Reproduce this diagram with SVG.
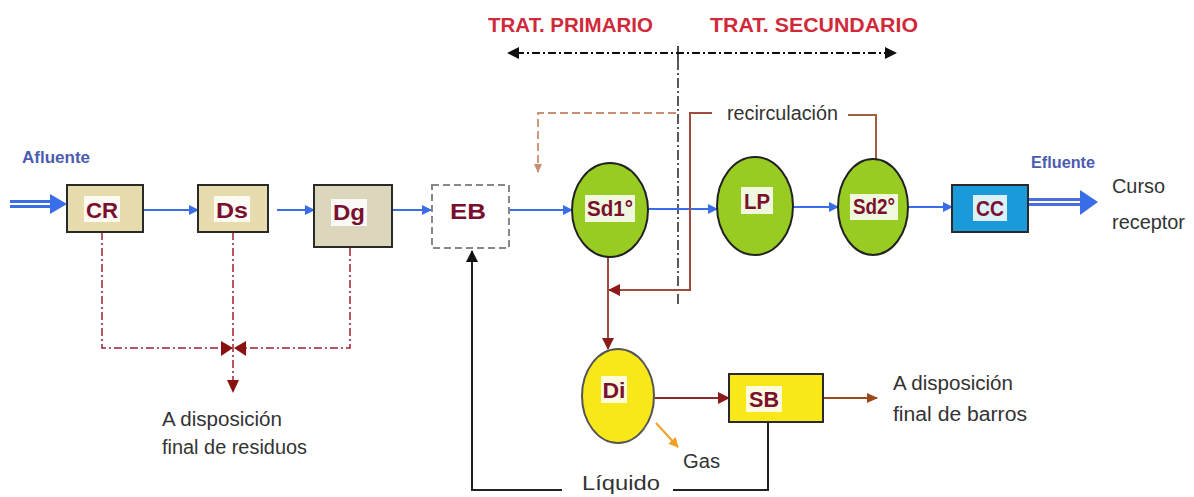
<svg xmlns="http://www.w3.org/2000/svg" width="1194" height="497" viewBox="0 0 1194 497">
<style>
.box{stroke:#2a2a2a;stroke-width:2}
.lbl{font-family:"Liberation Sans",Arial,sans-serif;font-weight:bold;font-size:22px;fill:#7a1030;text-anchor:middle}
.lblbg{fill:#ffffff;opacity:0.85}
.txt{font-family:"Liberation Sans",Arial,sans-serif;font-size:20px;fill:#333}
.red{font-family:"Liberation Sans",Arial,sans-serif;font-weight:bold;font-size:21px;fill:#d02a3a}
.blue{font-family:"Liberation Sans",Arial,sans-serif;font-weight:bold;font-size:16px;fill:#4a5cb0}
.flow{stroke:#3a6ee8;stroke-width:2;fill:none}
.dd{stroke-dasharray:8 3 2 3}
</style>
<defs>
<marker id="aBlue" markerWidth="10" markerHeight="10" refX="9" refY="5" orient="auto" markerUnits="userSpaceOnUse"><path d="M0,0 L10,5 L0,10 z" fill="#3a6ee8"/></marker>
<marker id="aMaroon" markerWidth="12" markerHeight="12" refX="11" refY="6" orient="auto" markerUnits="userSpaceOnUse"><path d="M0,0 L12,6 L0,12 z" fill="#8b1a1a"/></marker>
<marker id="aBrown" markerWidth="11" markerHeight="10" refX="10" refY="5" orient="auto" markerUnits="userSpaceOnUse"><path d="M0,0 L11,5 L0,10 z" fill="#9a4a1a"/></marker>
<marker id="aBlack" markerWidth="12" markerHeight="12" refX="11" refY="6" orient="auto" markerUnits="userSpaceOnUse"><path d="M0,0 L12,6 L0,12 z" fill="#111"/></marker>
<marker id="aOrange" markerWidth="10" markerHeight="10" refX="9" refY="5" orient="auto" markerUnits="userSpaceOnUse"><path d="M0,0 L10,5 L0,10 z" fill="#f0a020"/></marker>
<marker id="aDash" markerWidth="9" markerHeight="8" refX="8" refY="4" orient="auto" markerUnits="userSpaceOnUse"><path d="M0,0 L9,4 L0,8 z" fill="#c89070"/></marker>
</defs>
<rect width="1194" height="497" fill="#ffffff"/>

<g id="headers">
<text class="red" x="488" y="32" textLength="165" lengthAdjust="spacingAndGlyphs">TRAT. PRIMARIO</text>
<text class="red" x="710" y="32" textLength="208" lengthAdjust="spacingAndGlyphs">TRAT. SECUNDARIO</text>
</g>

<g id="connectors">
<line x1="516" y1="53" x2="888" y2="53" stroke="#111" stroke-width="2" class="dd"/>
<path d="M507,53 L519,47 L519,59 z" fill="#111"/>
<path d="M897,53 L885,47 L885,59 z" fill="#111"/>
<line x1="678" y1="46" x2="678" y2="60" stroke="#111" stroke-width="1.5"/>
<line x1="678" y1="60" x2="678" y2="305" stroke="#222" stroke-width="1.5" stroke-dasharray="10 3 2 3"/>
<line x1="10" y1="201.5" x2="52" y2="201.5" stroke="#3a6ee8" stroke-width="3"/>
<line x1="10" y1="206.5" x2="52" y2="206.5" stroke="#3a6ee8" stroke-width="3"/>
<path d="M50,194 L67,204 L50,214 z" fill="#3a6ee8"/>
<line class="flow" x1="143" y1="210" x2="198" y2="210" marker-end="url(#aBlue)"/>
<line class="flow" x1="277" y1="210" x2="314" y2="210" marker-end="url(#aBlue)"/>
<line class="flow" x1="392" y1="210" x2="431" y2="210" marker-end="url(#aBlue)"/>
<line class="flow" x1="509" y1="210" x2="572" y2="210" marker-end="url(#aBlue)"/>
<line class="flow" x1="648" y1="209" x2="717" y2="209" marker-end="url(#aBlue)"/>
<line class="flow" x1="793" y1="207" x2="838" y2="207" marker-end="url(#aBlue)"/>
<line class="flow" x1="908" y1="207" x2="952" y2="207" marker-end="url(#aBlue)"/>
<line x1="1028" y1="199.5" x2="1082" y2="199.5" stroke="#4a6ee0" stroke-width="3"/>
<line x1="1028" y1="204.5" x2="1082" y2="204.5" stroke="#4a6ee0" stroke-width="3"/>
<path d="M1080,190 L1098,202 L1080,215 z" fill="#3a6ee8"/>
<path d="M676,113 H538 V172" fill="none" stroke="#c89070" stroke-width="1.8" stroke-dasharray="8 4" marker-end="url(#aDash)"/>
<path d="M712,113 H690 V290 H609" fill="none" stroke="#a04a40" stroke-width="2" marker-end="url(#aMaroon)"/>
<path d="M848,115 H876 V159" fill="none" stroke="#a06040" stroke-width="2"/>
<line x1="608" y1="257" x2="608" y2="349" stroke="#a04a40" stroke-width="2" marker-end="url(#aMaroon)"/>
<line x1="655" y1="398" x2="729" y2="398" stroke="#8b2a2a" stroke-width="2" marker-end="url(#aMaroon)"/>
<line x1="823" y1="398" x2="877" y2="398" stroke="#9a4a1a" stroke-width="2" marker-end="url(#aBrown)"/>
<line x1="656" y1="423" x2="678" y2="447" stroke="#f0a020" stroke-width="2" marker-end="url(#aOrange)"/>
<path d="M768,422 V490 H673" fill="none" stroke="#222" stroke-width="2"/>
<path d="M562,490 H472 V251" fill="none" stroke="#222" stroke-width="2" marker-end="url(#aBlack)"/>
<path d="M102,232 V348 H222" fill="none" stroke="#a02030" stroke-width="1.5" class="dd"/>
<path d="M350,248 V348 H245" fill="none" stroke="#a02030" stroke-width="1.5" class="dd"/>
<line x1="233" y1="232" x2="233" y2="382" stroke="#a02030" stroke-width="1.5" class="dd"/>
<path d="M221,341 L233,348 L221,356 z" fill="#8b1010"/>
<path d="M246,341 L234,348 L246,356 z" fill="#8b1010"/>
<path d="M227,380 L233,393 L239,380 z" fill="#8b1010"/>
</g>

<g id="labels">
<text class="blue" x="22" y="163" textLength="68" lengthAdjust="spacingAndGlyphs">Afluente</text>
<text class="blue" x="1031" y="168" textLength="64" lengthAdjust="spacingAndGlyphs">Efluente</text>
<text class="txt" x="1112" y="193" font-size="22" textLength="53" lengthAdjust="spacingAndGlyphs">Curso</text>
<text class="txt" x="1112" y="229" font-size="22" textLength="73" lengthAdjust="spacingAndGlyphs">receptor</text>
<text class="txt" x="727" y="120" textLength="111" lengthAdjust="spacingAndGlyphs">recirculación</text>
<text class="txt" x="162" y="426" textLength="120" lengthAdjust="spacingAndGlyphs">A disposición</text>
<text class="txt" x="162" y="454" textLength="145" lengthAdjust="spacingAndGlyphs">final de residuos</text>
<text class="txt" x="893" y="390" textLength="120" lengthAdjust="spacingAndGlyphs">A disposición</text>
<text class="txt" x="893" y="421" textLength="134" lengthAdjust="spacingAndGlyphs">final de barros</text>
<text class="txt" x="683" y="468" textLength="37" lengthAdjust="spacingAndGlyphs">Gas</text>
<text class="txt" x="582" y="490" font-size="19" textLength="78" lengthAdjust="spacingAndGlyphs">Líquido</text>
</g>

<g id="CR">
<rect class="box" x="67" y="185" width="76" height="47" fill="#e6dcae"/>
<rect class="lblbg" x="84" y="196" width="36" height="26" fill="#f2ecd0"/>
<text class="lbl" x="102" y="218" textLength="32" lengthAdjust="spacingAndGlyphs">CR</text>
</g>
<g id="Ds">
<rect class="box" x="198" y="185" width="70" height="47" fill="#e6dcae"/>
<rect class="lblbg" x="214" y="196" width="36" height="26"/>
<text class="lbl" x="232" y="218" textLength="32" lengthAdjust="spacingAndGlyphs">Ds</text>
</g>
<g id="Dg">
<rect class="box" x="314" y="185" width="78" height="62" fill="#dcd6bc"/>
<rect class="lblbg" x="331" y="199" width="36" height="27"/>
<text class="lbl" x="349" y="220" textLength="32" lengthAdjust="spacingAndGlyphs">Dg</text>
</g>
<g id="EB">
<rect x="432" y="185" width="77" height="63" fill="#ffffff" stroke="#888" stroke-width="2" stroke-dasharray="7 4"/>
<text class="lbl" x="468" y="219" textLength="36" lengthAdjust="spacingAndGlyphs">EB</text>
</g>
<g id="Sd1">
<ellipse cx="610" cy="210" rx="38" ry="47" fill="#99cc22" stroke="#222" stroke-width="2"/>
<rect class="lblbg" x="585" y="195" width="50" height="27"/>
<text class="lbl" x="610" y="216" textLength="46" lengthAdjust="spacingAndGlyphs">Sd1°</text>
</g>
<g id="LP">
<ellipse cx="755" cy="206" rx="38" ry="49" fill="#99cc22" stroke="#222" stroke-width="2"/>
<rect class="lblbg" x="741" y="187" width="32" height="27"/>
<text class="lbl" x="757" y="209" textLength="26" lengthAdjust="spacingAndGlyphs">LP</text>
</g>
<g id="Sd2">
<ellipse cx="873" cy="207" rx="35" ry="48" fill="#99cc22" stroke="#222" stroke-width="2"/>
<rect class="lblbg" x="850" y="194" width="48" height="26" fill="#f4dada"/>
<text class="lbl" x="874" y="214" textLength="42" lengthAdjust="spacingAndGlyphs">Sd2°</text>
</g>
<g id="CC">
<rect class="box" x="952" y="185" width="76" height="47" fill="#1a9ad8"/>
<rect class="lblbg" x="973" y="195" width="34" height="26"/>
<text class="lbl" x="990" y="216" textLength="28" lengthAdjust="spacingAndGlyphs">CC</text>
</g>
<g id="Di">
<ellipse cx="618" cy="396" rx="36" ry="47" fill="#f8e81a" stroke="#555" stroke-width="2"/>
<rect class="lblbg" x="601" y="376" width="26" height="27" fill="#fbf2d8"/>
<text class="lbl" x="614" y="398" textLength="23" lengthAdjust="spacingAndGlyphs">Di</text>
</g>
<g id="SB">
<rect class="box" x="729" y="374" width="94" height="48" fill="#f8e81a"/>
<rect class="lblbg" x="746" y="386" width="36" height="26" fill="#fbf2d8"/>
<text class="lbl" x="764" y="407" textLength="30" lengthAdjust="spacingAndGlyphs">SB</text>
</g>
</svg>
